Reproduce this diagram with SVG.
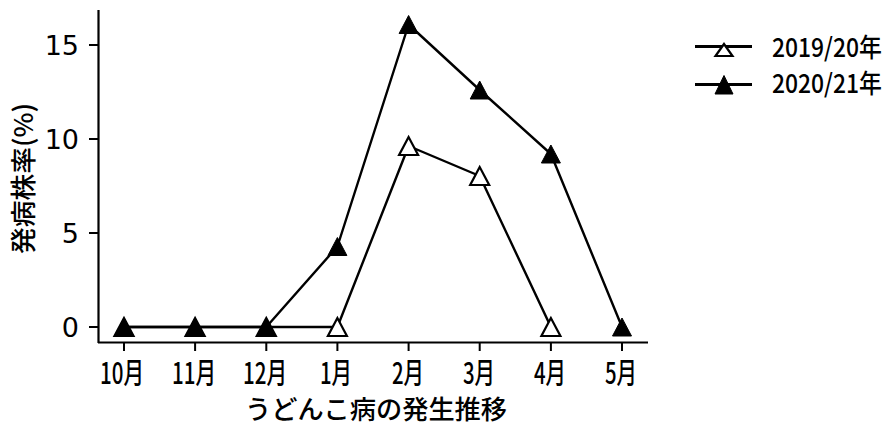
<svg xmlns="http://www.w3.org/2000/svg" width="895" height="425" viewBox="0 0 895 425">
<style>
.ax{stroke:#000;stroke-width:2.2;fill:none}
.tk{stroke:#000;stroke-width:2}
.ser{stroke:#000;stroke-width:2.4;fill:none;stroke-linejoin:round}
.num{font-family:"DejaVu Sans",sans-serif;font-size:27px;fill:#000;text-anchor:end}
.mon{font-family:"Noto Sans CJK JP",sans-serif;font-size:29px;font-weight:500;fill:#000;text-anchor:middle}
.lab{font-family:"Noto Sans CJK JP",sans-serif;font-size:26px;font-weight:500;fill:#000}
.leg{font-family:"Noto Sans CJK JP",sans-serif;font-size:26px;font-weight:500;fill:#000}
.open{fill:#fff;stroke:#000;stroke-width:2.2}
.fill{fill:#000;stroke:#000;stroke-width:1}
</style>
<defs>
<path id="tri" d="M0,-9 L-9.5,9 L9.5,9 Z"/>
</defs>
<rect width="895" height="425" fill="#fff"/>
<g id="axes">
<path class="ax" d="M98.5,10 V343 M98,342.5 H648"/>
<path class="tk" d="M89,327H98M89,233H98M89,139H98M89,45H98"/>
<path class="tk" d="M124,343V351M195.1,343V351M266.3,343V351M337.4,343V351M408.6,343V351M479.7,343V351M550.9,343V351M622,343V351"/>
<text class="num" x="79" y="337">0</text>
<text class="num" x="79" y="243">5</text>
<text class="num" x="79" y="149">10</text>
<text class="num" x="79" y="55">15</text>
<text class="mon" x="122" y="384" textLength="44" lengthAdjust="spacingAndGlyphs">10月</text>
<text class="mon" x="194" y="384" textLength="44" lengthAdjust="spacingAndGlyphs">11月</text>
<text class="mon" x="265" y="384" textLength="44" lengthAdjust="spacingAndGlyphs">12月</text>
<text class="mon" x="336" y="384" textLength="32" lengthAdjust="spacingAndGlyphs">1月</text>
<text class="mon" x="408" y="384" textLength="32" lengthAdjust="spacingAndGlyphs">2月</text>
<text class="mon" x="479" y="384" textLength="32" lengthAdjust="spacingAndGlyphs">3月</text>
<text class="mon" x="550" y="384" textLength="32" lengthAdjust="spacingAndGlyphs">4月</text>
<text class="mon" x="621" y="384" textLength="32" lengthAdjust="spacingAndGlyphs">5月</text>
<text class="lab" x="245" y="419" textLength="262" lengthAdjust="spacingAndGlyphs">うどんこ病の発生推移</text>
<text class="lab" transform="translate(33,254) rotate(-90)" x="0" y="0" font-size="25" textLength="151" lengthAdjust="spacingAndGlyphs">発病株率(%)</text>
</g>
<g id="connectors">
<polyline id="line-2019" class="ser" points="124,327 195.1,327 266.3,327 337.4,327 408.6,146 479.7,176 550.9,327"/>
<polyline id="line-2020" class="ser" points="124,327 195.1,327 266.3,327 337.4,246.5 408.6,24.5 479.7,90 550.9,154 622,327"/>
</g>
<g id="series-2019">
<use href="#tri" class="open" x="124" y="327"/>
<use href="#tri" class="open" x="195.1" y="327"/>
<use href="#tri" class="open" x="266.3" y="327"/>
<use href="#tri" class="open" x="337.4" y="327"/>
<use href="#tri" class="open" x="408.6" y="146"/>
<use href="#tri" class="open" x="479.7" y="176"/>
<use href="#tri" class="open" x="550.9" y="327"/>
</g>
<g id="series-2020">
<use href="#tri" class="fill" x="124" y="327"/>
<use href="#tri" class="fill" x="195.1" y="327"/>
<use href="#tri" class="fill" x="266.3" y="327"/>
<use href="#tri" class="fill" x="337.4" y="246.5"/>
<use href="#tri" class="fill" x="408.6" y="24.5"/>
<use href="#tri" class="fill" x="479.7" y="90"/>
<use href="#tri" class="fill" x="550.9" y="154"/>
<use href="#tri" class="fill" x="622" y="327"/>
</g>
<g id="legend">
<path d="M695,46.5H752M695,84.5H752" stroke="#000" stroke-width="3"/>
<path class="open" d="M724,44 L715.5,56 L732.5,56 Z"/>
<path class="fill" d="M724,75.5 L715,94 L733,94 Z"/>
<text class="leg" transform="translate(772,57) scale(0.88,1)">2019/20年</text>
<text class="leg" transform="translate(772,93) scale(0.88,1)">2020/21年</text>
</g>
</svg>
